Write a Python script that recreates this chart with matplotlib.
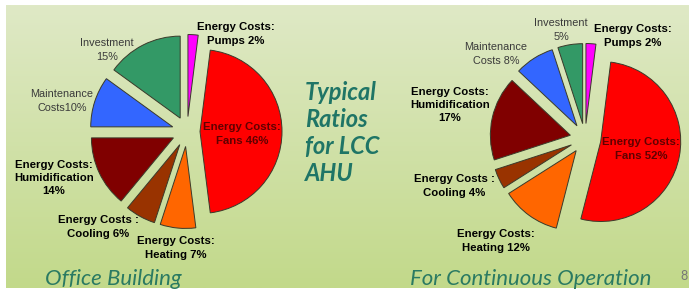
import numpy as np
import matplotlib
matplotlib.use("Agg")
import matplotlib.pyplot as plt

# slice order: clockwise from 12 o'clock
categories = ["Pumps", "Fans", "Heating", "Cooling", "Humidification", "Maintenance", "Investment"]
office = [2, 46, 7, 6, 14, 10, 15]
continuous = [2, 52, 12, 4, 17, 8, 5]
colors = ["#ff00ff", "#ff0000", "#ff6600", "#993300", "#800000", "#3366ff", "#339966"]

office_labels = ["Energy Costs:\nPumps {}%", "Energy Costs:\nFans {}%", "Energy Costs:\nHeating {}%",
                 "Energy Costs :\nCooling {}%", "Energy Costs:\nHumidification\n{}%",
                 "Maintenance\nCosts{}%", "Investment\n{}%"]
cont_labels = ["Energy Costs:\nPumps {}%", "Energy Costs:\nFans {}%", "Energy Costs:\nHeating {}%",
               "Energy Costs :\nCooling {}%", "Energy Costs:\nHumidification\n{}%",
               "Maintenance\nCosts {}%", "Investment\n{}%"]

W, H = 689, 293

fig = plt.figure(figsize=(W / 100, H / 100), dpi=100)
ax = fig.add_axes([0, 0, 1, 1])

def py(y):
    # pixel row -> data y
    return H - y

# background gradient
top = np.array([223, 233, 198]) / 255
bot = np.array([194, 217, 138]) / 255
t = np.linspace(0, 1, 200)[:, None]
grad = top * (1 - t) + bot * t
ax.imshow(grad[:, None, :], extent=(6, W, py(288), py(5)), aspect="auto", zorder=0)

def draw_pie(values, center, r, labels, label_pos, expl, fans_expl):
    # explode is in data units (pixels here)
    explode = [expl] * len(values)
    explode[1] = fans_expl
    ax.pie(values, colors=colors, startangle=90, counterclock=False, radius=r,
           center=(center[0], py(center[1])), explode=explode,
           wedgeprops=dict(edgecolor="#3a3a2a", linewidth=0.7))
    for i, (lab, v) in enumerate(zip(labels, values)):
        x, y = label_pos[i]
        if categories[i] in ("Maintenance", "Investment"):
            ax.text(x, py(y), lab.format(v), ha="center", va="center", fontsize=7.8,
                    family="Liberation Sans", color="#3a3a3a", linespacing=1.4, zorder=5)
        else:
            c = "#600000" if categories[i] == "Fans" else "black"
            ax.text(x, py(y), lab.format(v), ha="center", va="center", fontsize=8.2,
                    family="Liberation Sans", weight="bold", color=c, linespacing=1.4, zorder=5)

pos1 = [(236, 34), (242, 134), (176, 248), (98, 227), (54, 178), (62, 101), (107, 50)]
pos2 = [(633, 36), (641, 149), (496, 241), (454, 186), (450, 105), (496, 54), (561, 30)]

draw_pie(office, (187, 131.5), 82, office_labels, pos1, 15, 13)
draw_pie(continuous, (585, 138.5), 80, cont_labels, pos2, 15, 16)

teal = "#1f7566"
ax.text(305, py(133), "Typical\nRatios\nfor LCC\nAHU", ha="left", va="center", fontsize=17,
        family="Lato", style="italic", weight="bold", color=teal, linespacing=1.2)
ax.text(45, py(279), "Office Building", ha="left", va="center", fontsize=16,
        family="Lato", style="italic", color="#2a7a62")
ax.text(410, py(279), "For Continuous Operation", ha="left", va="center", fontsize=16,
        family="Lato", style="italic", color="#2a7a62")
ax.text(680, py(276), "8", ha="left", va="center", fontsize=9, family="Lato", color="#777777")

ax.set_xlim(0, W)
ax.set_ylim(0, H)
ax.axis("off")

fig.savefig("out.png", dpi=100, facecolor="white")
